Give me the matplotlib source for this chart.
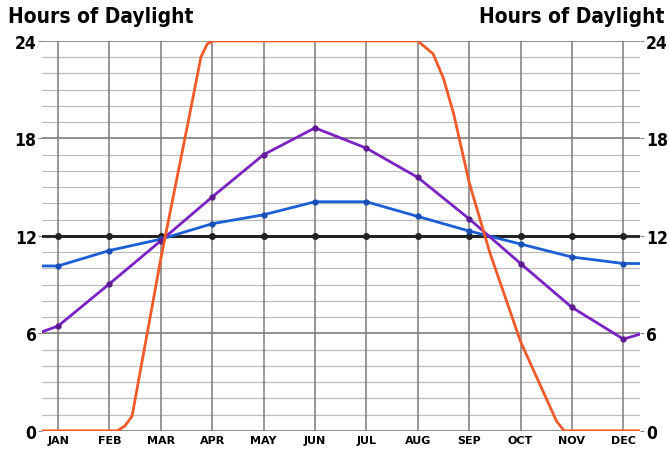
import matplotlib
matplotlib.use("Agg")
import matplotlib.pyplot as plt

# month positions (0 = JAN ... 11 = DEC)
months = ["JAN", "FEB", "MAR", "APR", "MAY", "JUN",
          "JUL", "AUG", "SEP", "OCT", "NOV", "DEC"]
month_x = list(range(12))

# equator: 12 h all year
equator_h = [12] * 12

# mid latitude (blue), read at each month plus the two plot edges
blue_x = [-0.31] + month_x + [11.33]
blue_h = [10.15, 10.15, 11.1, 11.8, 12.75, 13.3, 14.1,
          14.1, 13.2, 12.3, 11.5, 10.7, 10.3, 10.3]

# high latitude (purple)
purple_x = [-0.31] + month_x + [11.33]
purple_h = [6.1, 6.45, 9.05, 11.7, 14.4, 17.0, 18.65,
            17.4, 15.6, 13.05, 10.3, 7.6, 5.65, 5.95]

# polar (red), extra points read along the steep parts
red_x = [-0.31, 0, 1, 1.15, 1.3, 1.44, 2, 2.5, 2.78, 2.9, 3, 4, 5, 6, 7,
         7.3, 7.5, 7.7, 8, 8.4, 9, 9.7, 9.85, 10, 11, 11.33]
red_h = [0, 0, 0, 0, 0.3, 0.9, 10.6, 18.5, 23.0, 23.8, 24, 24, 24, 24, 24,
         23.2, 21.7, 19.5, 15.3, 11.0, 5.5, 0.6, 0, 0, 0, 0]

y_ticks = [0, 6, 12, 18, 24]

narrow = dict(family="DejaVu Sans", fontstretch="condensed", fontweight="bold")

fig = plt.figure(figsize=(6.69, 4.56), dpi=100)
ax = fig.add_axes([0.063, 0.053, 0.894, 0.855])

# grid
for h in range(25):
    major = h % 6 == 0
    ax.axhline(h, color="#707070" if major else "#bdbdbd",
               lw=1.1 if major else 0.9, zorder=1)
for m in month_x:
    ax.axvline(m, color="#7a7a7a", lw=1.1, zorder=1)

ax.plot(month_x, equator_h, color="#222222", lw=2.0, marker="o", ms=4, zorder=3)
ax.plot([-0.31, 11.33], [12, 12], color="#222222", lw=2.0, zorder=3)
ax.plot(blue_x, blue_h, color="#1a5fd6", lw=2.0, zorder=4)
ax.plot(month_x, blue_h[1:-1], ls="none", marker="o", ms=3.5, color="#1a4fb8", zorder=4)
ax.plot(purple_x, purple_h, color="#7b22c4", lw=2.0, zorder=5)
ax.plot(month_x, purple_h[1:-1], ls="none", marker="o", ms=3.5, color="#5e1a90", zorder=5)
ax.plot(red_x, red_h, color="#f05a28", lw=2.0, zorder=6)

ax.set_xlim(-0.31, 11.33)
ax.set_ylim(0, 24)
for s in ax.spines.values():
    s.set_visible(False)

ax.set_xticks(month_x)
ax.set_xticklabels(months, fontsize=8, fontweight="bold", family="DejaVu Sans")
ax.tick_params(axis="x", length=0, pad=3)
ax.set_yticks(y_ticks)
ax.set_yticklabels([str(v) for v in y_ticks], fontsize=12.5, **narrow)
ax.tick_params(axis="y", length=3, color="#888888", pad=1,
               left=True, right=True, labelleft=True, labelright=True)

fig.text(0.012, 0.985, "Hours of Daylight", ha="left", va="top", fontsize=15, **narrow)
fig.text(0.993, 0.985, "Hours of Daylight", ha="right", va="top", fontsize=15, **narrow)

fig.savefig("out.png", dpi=100)
